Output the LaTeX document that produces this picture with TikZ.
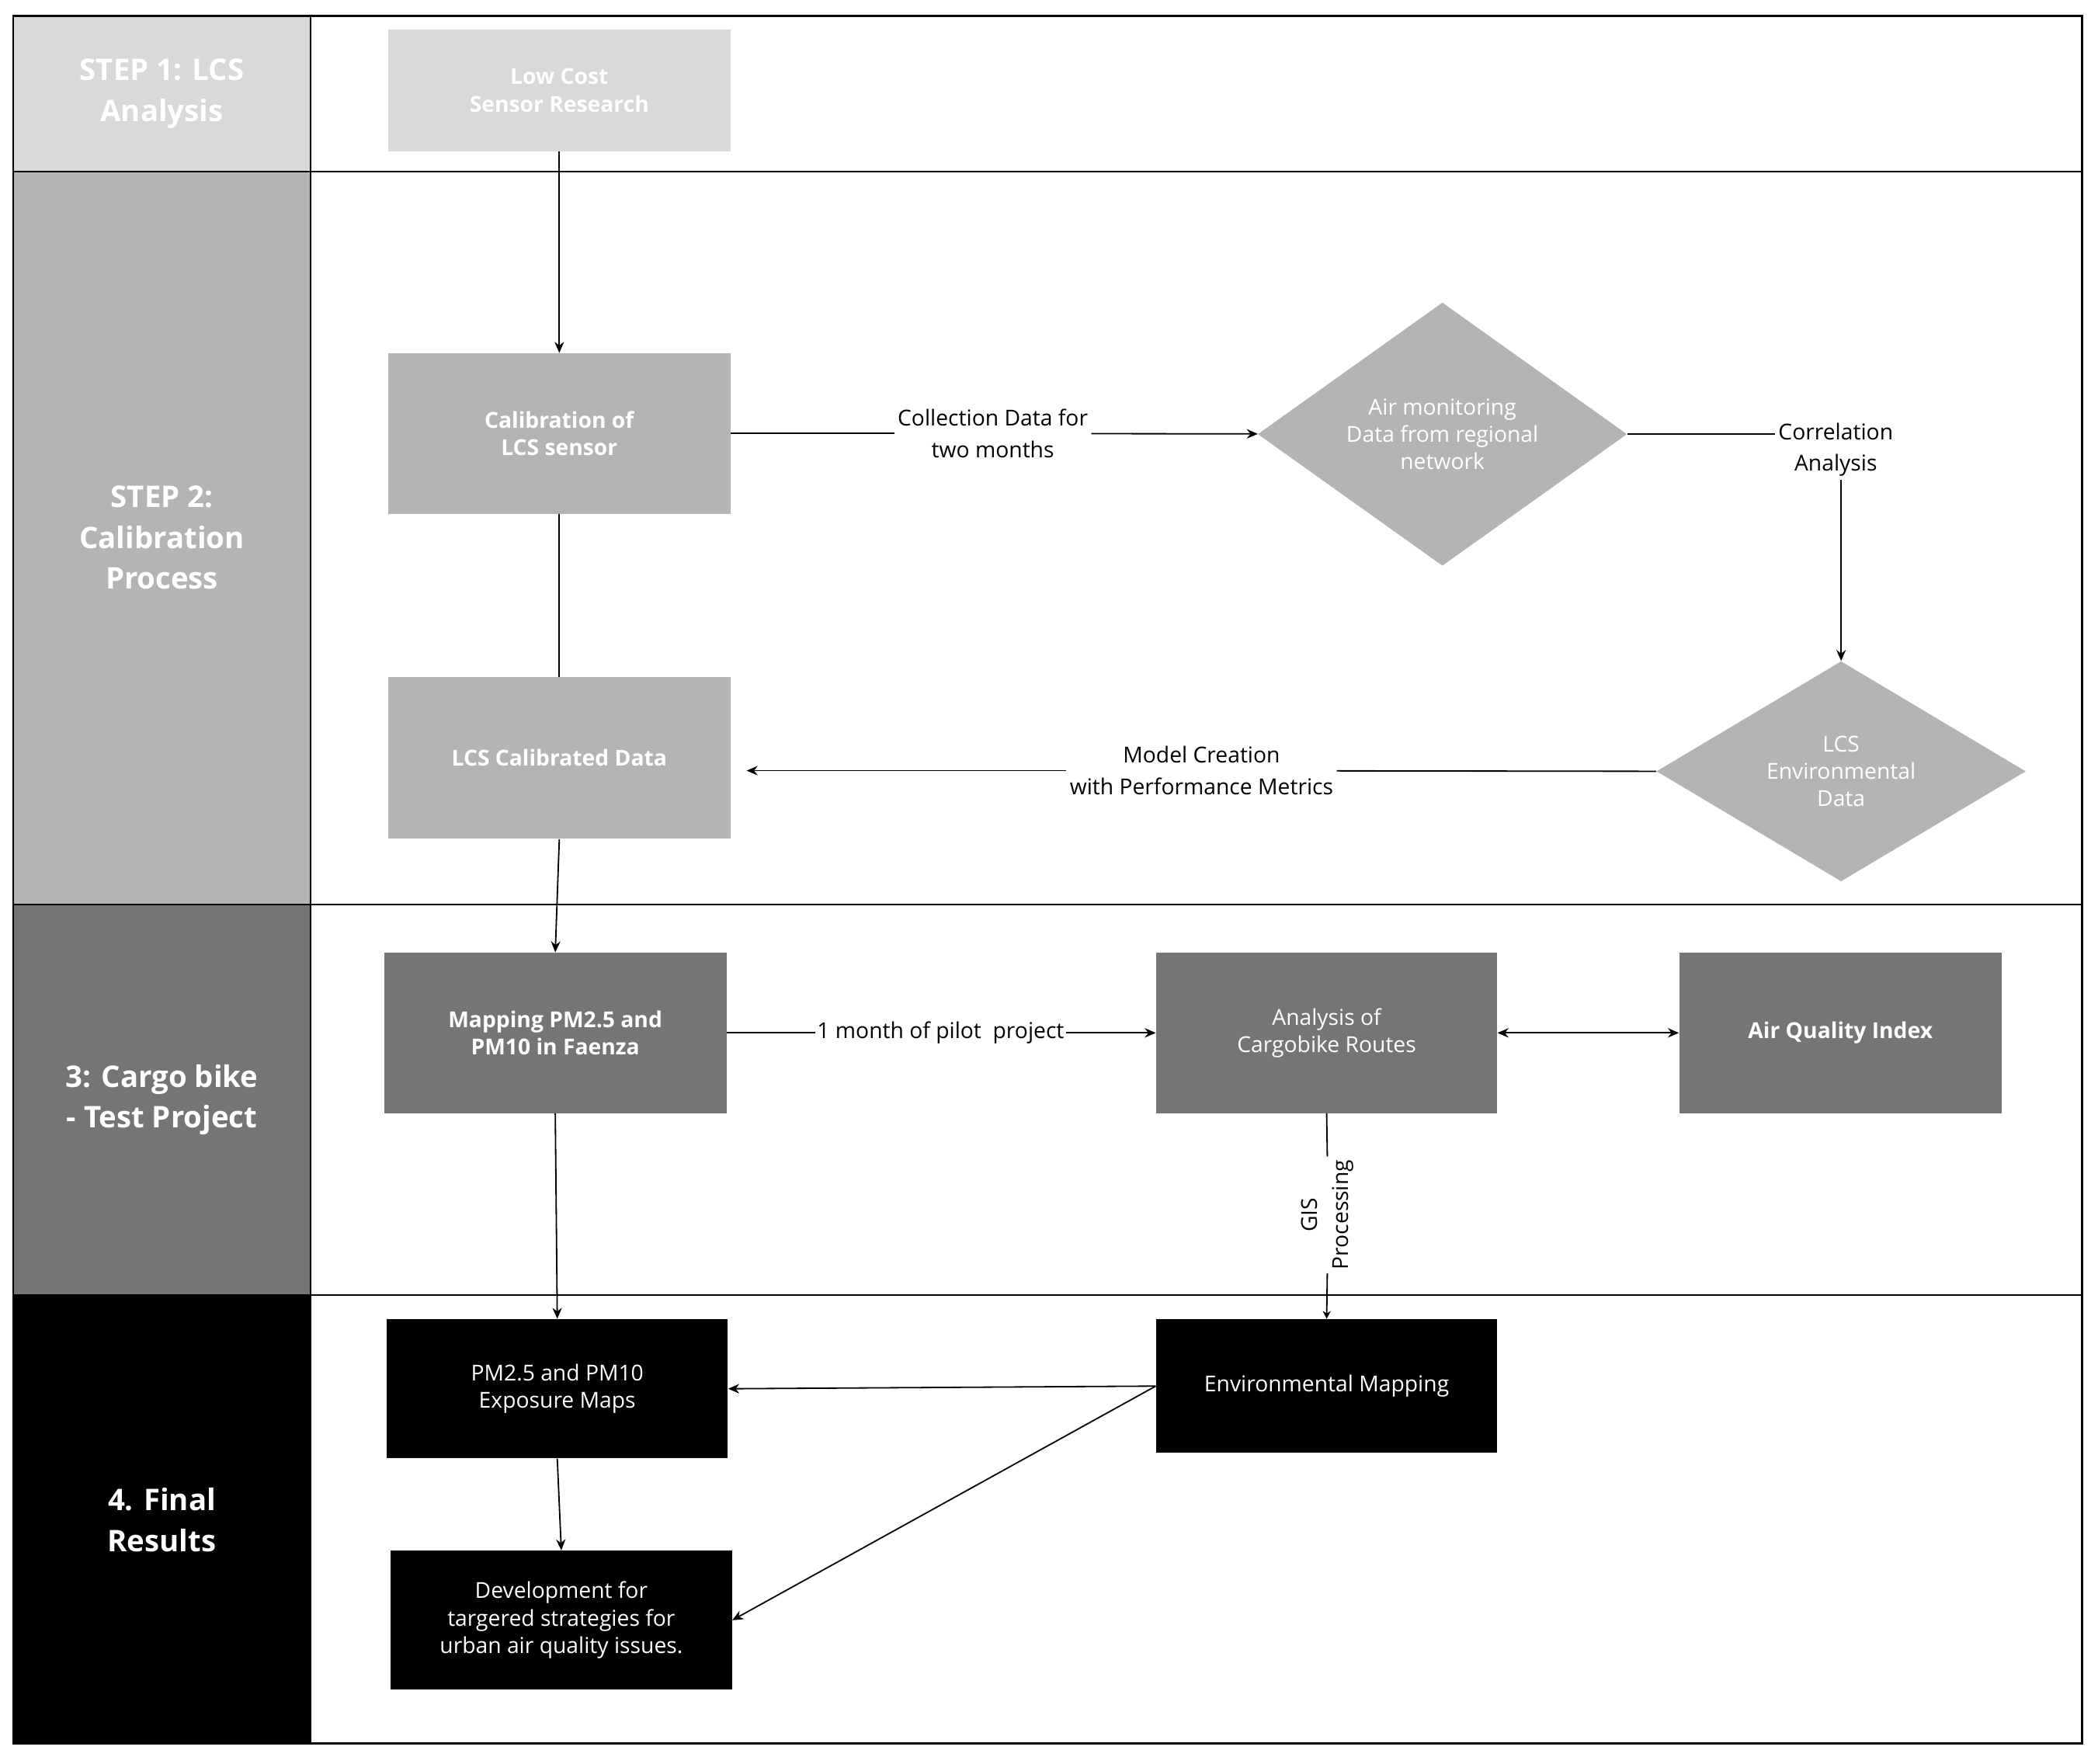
\documentclass[tikz,border=0pt]{standalone}
\usepackage{fontspec}
\setmainfont{Open Sans}
\usetikzlibrary{shapes.geometric,arrows.meta}
\definecolor{g1}{HTML}{D9D9D9}
\definecolor{g2}{HTML}{B4B4B4}
\definecolor{g3}{HTML}{757575}
\begin{document}
\begin{tikzpicture}[x=0.3mm,y=-0.3mm,
 box/.style={draw=none,inner sep=0pt,align=center,text=white,font=\fontsize{14}{17.5}\selectfont},
 dia/.style={diamond,draw=none,fill=g2,inner sep=0pt,text=white,align=center,font=\fontsize{14}{17.5}\selectfont},
 lab/.style={align=center,font=\fontsize{14}{20}\selectfont,fill=white,inner sep=2pt},
 stp/.style={align=center,text=white,font=\bfseries\fontsize{19}{26}\selectfont},
 arr/.style={-{Stealth[length=7pt,width=6pt]},line width=0.9pt},
 ln/.style={line width=0.9pt}]
\useasboundingbox (0,0) rectangle (1568,1318);
\fill[white] (0,0) rectangle (1568,1318);
% bands
\fill[g1] (10,12) rectangle (232,128);
\fill[g2] (10,128) rectangle (232,676);
\fill[g3] (10,676) rectangle (232,968);
\fill[black] (10,968) rectangle (232,1303);
\draw[line width=1.2pt] (10,12) rectangle (1556,1303);
\foreach \y in {128,676,968} \draw[line width=1pt] (10,\y) -- (1556,\y);
\draw[line width=1pt] (232,12) -- (232,1303);
\node[stp] (s1) at (121,70) {STEP 1: LCS\\Analysis};
\node[stp] (s2) at (121,402) {STEP 2:\\Calibration\\Process};
\node[stp] (s3) at (121,822) {3: Cargo bike\\- Test Project};
\node[stp] (s4) at (121,1136) {4. Final\\Results};
% nodes
\node[box,fill=g1,font=\bfseries\fontsize{14}{17.5}\selectfont,minimum width=256*0.3mm,minimum height=91*0.3mm] (low) at (418,67.5) {Low Cost\\Sensor Research};
\node[box,fill=g2,font=\bfseries\fontsize{14}{17.5}\selectfont,minimum width=256*0.3mm,minimum height=120*0.3mm] (cal) at (418,324) {Calibration of\\LCS sensor};
\node[box,fill=g2,font=\bfseries\fontsize{14}{17.5}\selectfont,minimum width=256*0.3mm,minimum height=121*0.3mm] (lcd) at (418,566.5) {LCS Calibrated Data};
\node[dia,minimum width=276*0.3mm,minimum height=141*0.3mm] (air) at (1078,324.5) {Air monitoring\\Data from regional\\network};
\node[dia,minimum width=276*0.3mm,minimum height=141*0.3mm] (env) at (1376,576.5) {LCS\\Environmental\\Data};
\node[box,fill=g3,font=\bfseries\fontsize{14}{17.5}\selectfont,minimum width=256*0.3mm,minimum height=120*0.3mm] (map) at (415,772) {Mapping PM2.5 and\\PM10 in Faenza};
\node[box,fill=g3,minimum width=255*0.3mm,minimum height=120*0.3mm] (ana) at (991.5,772) {Analysis of\\Cargobike Routes};
\node[box,fill=g3,font=\bfseries\fontsize{14}{17.5}\selectfont,minimum width=241*0.3mm,minimum height=120*0.3mm] (aqi) at (1375.5,772) {Air Quality Index};
\node[box,fill=black,minimum width=255*0.3mm,minimum height=104*0.3mm] (pm) at (416.5,1038) {PM2.5 and PM10\\Exposure Maps};
\node[box,fill=black,minimum width=255*0.3mm,minimum height=100*0.3mm] (em) at (991.5,1036) {Environmental Mapping};
\node[box,fill=black,minimum width=255*0.3mm,minimum height=104*0.3mm] (dev) at (419.5,1211) {Development for\\targered strategies for\\urban air quality issues.};
% connectors
\draw[arr] (low) -- (cal);
\draw[ln] (cal) -- (lcd);
\node[lab] (l1) at (742,324) {Collection Data for\\two months};
\draw[ln] (cal) -- (l1);
\draw[arr] (l1) -- (air);
\node[lab] (l2) at (1372,336) {Correlation\\Analysis};
\draw[ln] (air.east) -- (l2.west|-air.east);
\draw[arr] (l2.south-|env.north) -- (env.north);
\node[lab] (l3) at (898,576) {Model Creation\\with Performance Metrics};
\draw[ln] (env.west) -- (l3);
\coordinate (lcdin) at (558,576);
\draw[arr] (l3) -- (lcdin);
\draw[arr] (lcd.south) -- (map.north);
\node[lab,inner sep=1pt] (l4) at (703,772) {1 month of pilot\ \ project};
\draw[ln] (map) -- (l4);
\draw[arr] (l4) -- (ana);
\draw[{Stealth[length=7pt,width=6pt]}-{Stealth[length=7pt,width=6pt]},line width=0.9pt] (ana) -- (aqi);
\draw[arr] (map.south) -- (pm.north);
\node[lab,rotate=90] (l5) at (992,908) {GIS\\Processing};
\draw[ln] (ana.south) -- (l5.east);
\draw[-{Stealth[length=5pt,width=5pt]},line width=0.9pt] (l5.west) -- (em.north);
\draw[arr] (em.west) -- (pm.east);
\draw[arr] (em.west) -- (dev.east);
\draw[arr] (pm.south) -- (dev.north);
\end{tikzpicture}
\end{document}
